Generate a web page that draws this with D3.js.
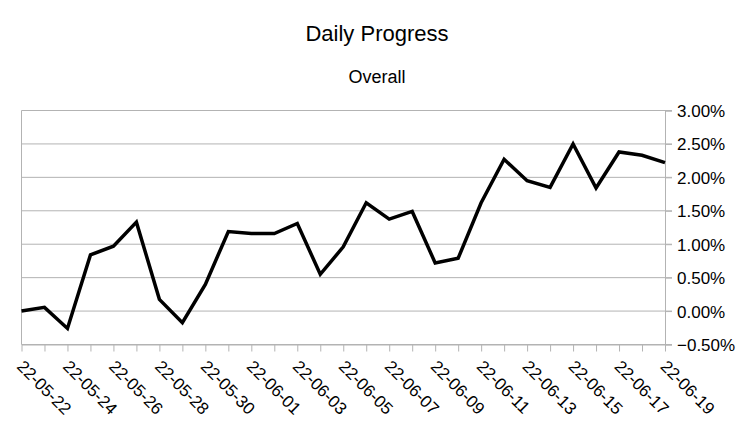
<!DOCTYPE html>
<html>
<head>
<meta charset="utf-8">
<script src="https://cdn.jsdelivr.net/npm/d3@7"></script>
<style>
  body { margin: 0; background: #fff; }
  text { font-family: "Liberation Sans", Arial, sans-serif; fill: #000; }
</style>
</head>
<body>
<div id="chart"></div>
<script>
var svgWidth = 756;
var svgHeight = 426;

// one point per day, 22-05-22 .. 22-06-19
var dates = [
  "22-05-22", "22-05-23", "22-05-24", "22-05-25", "22-05-26", "22-05-27", "22-05-28",
  "22-05-29", "22-05-30", "22-05-31", "22-06-01", "22-06-02", "22-06-03", "22-06-04",
  "22-06-05", "22-06-06", "22-06-07", "22-06-08", "22-06-09", "22-06-10", "22-06-11",
  "22-06-12", "22-06-13", "22-06-14", "22-06-15", "22-06-16", "22-06-17", "22-06-18",
  "22-06-19"
];
// overall progress in %
var overall = [
  0.00, 0.055, -0.26, 0.84, 0.97, 1.33, 0.175, -0.175, 0.40, 1.19,
  1.16, 1.16, 1.31, 0.55, 0.96, 1.62, 1.375, 1.49, 0.72, 0.79,
  1.62, 2.27, 1.95, 1.85, 2.50, 1.84, 2.38, 2.33, 2.22
];
var yTicks = [-0.5, 0, 0.5, 1, 1.5, 2, 2.5, 3];
var xLabels = dates.filter(function(d, i) { return i % 2 === 0; });

var margin = { top: 110.5, right: 91, bottom: 81.5, left: 21.5 };
var width = svgWidth - margin.left - margin.right;
var height = svgHeight - margin.top - margin.bottom;

var svg = d3.select("#chart")
  .append("svg")
  .attr("width", svgWidth)
  .attr("height", svgHeight);

// titles
svg.append("text")
  .attr("x", 377)
  .attr("y", 41)
  .attr("text-anchor", "middle")
  .style("font-size", "22px")
  .text("Daily Progress");

svg.append("text")
  .attr("x", 377)
  .attr("y", 83)
  .attr("text-anchor", "middle")
  .style("font-size", "18px")
  .text("Overall");

var chartGroup = svg.append("g")
  .attr("transform", `translate(${margin.left}, ${margin.top})`);

var xScale = d3.scalePoint()
  .domain(dates)
  .range([0, width]);

var yScale = d3.scaleLinear()
  .domain([-0.5, 3])
  .range([height, 0]);

// gridlines
chartGroup.append("g")
  .selectAll("line")
  .data(yTicks)
  .enter()
  .append("line")
  .attr("x1", 0)
  .attr("x2", width + 7)
  .attr("y1", d => yScale(d))
  .attr("y2", d => yScale(d))
  .attr("stroke", "#b3b3b3")
  .attr("stroke-width", 1);

// left border
chartGroup.append("line")
  .attr("x1", 0).attr("x2", 0)
  .attr("y1", 0).attr("y2", height)
  .attr("stroke", "#b3b3b3");

// right axis
var rightAxis = d3.axisRight(yScale)
  .tickValues(yTicks)
  .tickSize(7)
  .tickPadding(5)
  .tickFormat(d => d3.format(".2f")(d) + "%");

var yAxis = chartGroup.append("g")
  .attr("transform", `translate(${width}, 0)`)
  .call(rightAxis);
yAxis.select(".domain").attr("stroke", "#b3b3b3");
yAxis.selectAll(".tick line").attr("stroke", "#b3b3b3");
yAxis.selectAll("text")
  .style("font-size", "17px")
  .attr("dy", "0.35em")
  .attr("fill", "#000");

// bottom axis
var bottomAxis = d3.axisBottom(xScale)
  .tickSize(7)
  .tickSizeOuter(0)
  .tickFormat(d => xLabels.indexOf(d) >= 0 ? d : "");

var xAxis = chartGroup.append("g")
  .attr("transform", `translate(0, ${height})`)
  .call(bottomAxis);
xAxis.select(".domain").attr("stroke", "#b3b3b3");
xAxis.selectAll(".tick line").attr("stroke", "#b3b3b3");
xAxis.selectAll("text")
  .style("font-size", "17px")
  .attr("fill", "#000")
  .attr("text-anchor", "start")
  .attr("y", 0)
  .attr("x", 0)
  .attr("dy", 0)
  .attr("transform", "translate(-6, 23) rotate(45)");

// the line
var line = d3.line()
  .x((d, i) => xScale(dates[i]))
  .y(d => yScale(d));

chartGroup.append("path")
  .datum(overall)
  .attr("fill", "none")
  .attr("stroke", "#000")
  .attr("stroke-width", 3.5)
  .attr("stroke-linejoin", "miter")
  .attr("d", line);
</script>
</body>
</html>
